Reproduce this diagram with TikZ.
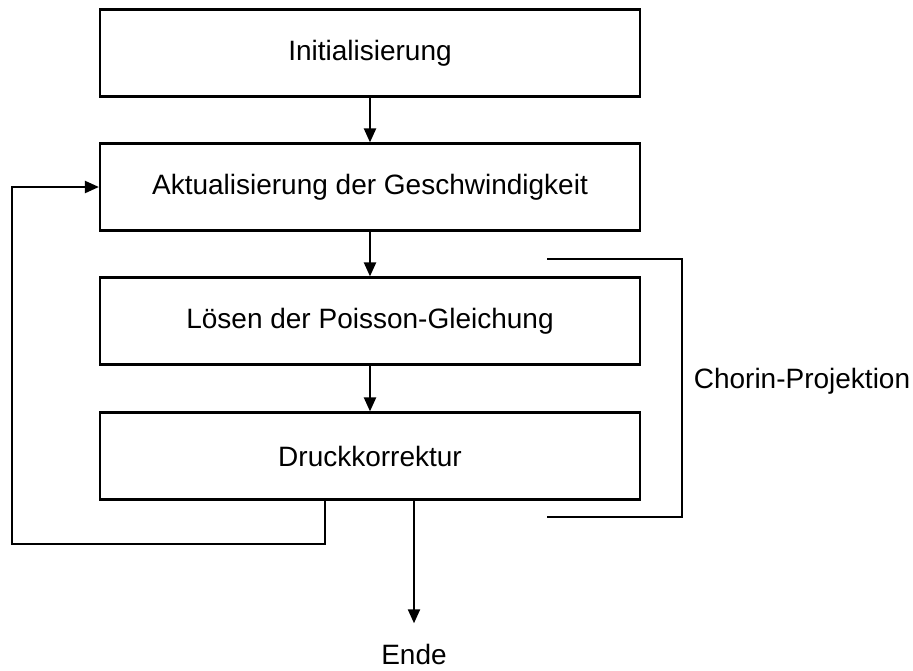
\documentclass[tikz,border=0pt]{standalone}
\usepackage{fontspec}
\setmainfont{Liberation Sans}
\usetikzlibrary{arrows.meta}

\begin{document}
\begin{tikzpicture}[x=1pt, y=-1pt, line width=2.2pt,
  every node/.style={font=\fontsize{28}{34}\selectfont},
  box/.style={draw, rectangle, minimum width=540pt, minimum height=87pt, inner sep=0pt},
  arr/.style={-{Triangle[length=14pt,width=12pt]}}]

\useasboundingbox (0,0) rectangle (913,670);

% Steps of the solver
\node[box] (init) at (370,53) {Initialisierung};
\node[box] (velo) at (370,187) {Aktualisierung der Geschwindigkeit};
\node[box] (pois) at (370,321) {Lösen der Poisson-Gleichung};
\node[box] (corr) at (370,456) {Druckkorrektur};
\node (ende) at (414,654) {Ende};

% Arrows between steps
\draw[arr] (init) -- (velo);
\draw[arr] (velo) -- (pois);
\draw[arr] (pois) -- (corr);

% back to velocity update
\coordinate (loopA) at (325,544);
\coordinate (loopB) at (12,544);
\draw[arr] (corr.south -| loopA) -- (loopA) -- (loopB) |- (velo.west);

% exit
\draw[arr, shorten >=16pt] (corr.south -| ende) -- (ende.north);

% Bracket for the projection
\draw (547,259) -- (682,259) -- (682,517) -- (547,517);
\node (chorin) at (802,381) {Chorin-Projektion};

\end{tikzpicture}
\end{document}
